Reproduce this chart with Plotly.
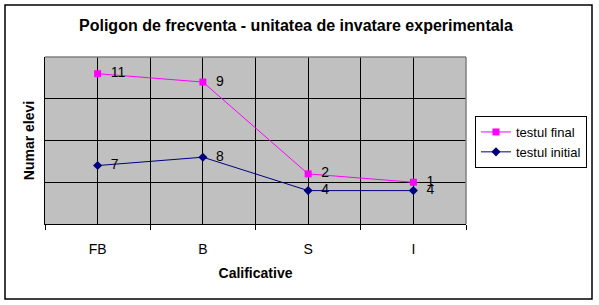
import plotly.graph_objects as go

categories = ["FB", "B", "S", "I"]
testul_initial = [7, 8, 4, 4]
testul_final = [11, 9, 2, 1]

xpos = list(range(len(categories)))
FONT = "Liberation Sans, Arial"

fig = go.Figure()
fig.add_trace(go.Scatter(
    x=xpos, y=testul_initial, name="testul initial", stackgroup="s", fill="none",
    mode="lines+markers+text", text=["  " + str(v) for v in testul_initial],
    textposition="middle right", textfont=dict(family=FONT, size=14, color="black"),
    line=dict(color="#000080", width=1), marker=dict(symbol="diamond", size=7, color="#000080"),
))
fig.add_trace(go.Scatter(
    x=xpos, y=testul_final, name="testul final", stackgroup="s", fill="none",
    mode="lines+markers+text", text=["  " + str(v) for v in testul_final],
    textposition="middle right", textfont=dict(family=FONT, size=14, color="black"),
    line=dict(color="#FF00FF", width=1), marker=dict(symbol="square", size=7, color="#FF00FF"),
))

L, R, T, B = 45, 133, 57, 81
W, H = 599, 305
pw, ph = W - L - R, H - T - B
def px(x):
    return (x - L) / pw
def py(y):
    return (H - B - y) / ph

fig.update_layout(
    width=W, height=H, margin=dict(l=L, r=R, t=T, b=B, autoexpand=False),
    paper_bgcolor="white", plot_bgcolor="#C0C0C0",
    font=dict(family=FONT, size=14, color="black"),
    title=dict(text="<b>Poligon de frecventa - unitatea de invatare experimentala</b>",
               x=296 / W, xanchor="center", y=1 - 25 / H, yanchor="middle",
               font=dict(size=16)),
    showlegend=True,
    legend=dict(x=px(475), xanchor="left", y=py(116), yanchor="top",
                bordercolor="black", borderwidth=1, bgcolor="white",
                traceorder="reversed", font=dict(size=13),
                tracegroupgap=0, itemwidth=30),
    xaxis=dict(range=[-0.5, len(categories) - 0.5], tickvals=xpos, ticktext=categories,
               showgrid=True, gridcolor="black", gridwidth=1, ticks="",
               showline=True, linecolor="black", linewidth=1, zeroline=False,
               tickfont=dict(size=14), ticklabelstandoff=12,
               minor=dict(tickvals=[i - 0.5 for i in range(len(categories) + 1)],
                          showgrid=True, gridcolor="black", gridwidth=1,
                          ticks="outside", ticklen=5, tickcolor="black"),
               title=dict(text="<b>Calificative</b>", font=dict(size=14), standoff=12)),
    yaxis=dict(range=[0, 20], dtick=5, showticklabels=False, showgrid=True,
               gridcolor="black", gridwidth=1, ticks="", zeroline=False,
               showline=True, linecolor="black", linewidth=1,
               title=dict(text="<b>Numar elevi</b>", font=dict(size=14), standoff=6)),
    shapes=[
        dict(type="line", xref="paper", yref="paper", x0=0, x1=1, y0=1, y1=1,
             line=dict(color="#808080", width=1.5), layer="above"),
        dict(type="line", xref="paper", yref="paper", x0=1, x1=1, y0=0, y1=1,
             line=dict(color="#808080", width=1.5), layer="above"),
        dict(type="rect", xref="paper", yref="paper", x0=px(5), x1=px(592),
             y0=py(299), y1=py(5), line=dict(color="black", width=1.5)),
    ],
)

fig.write_html("out.html")
